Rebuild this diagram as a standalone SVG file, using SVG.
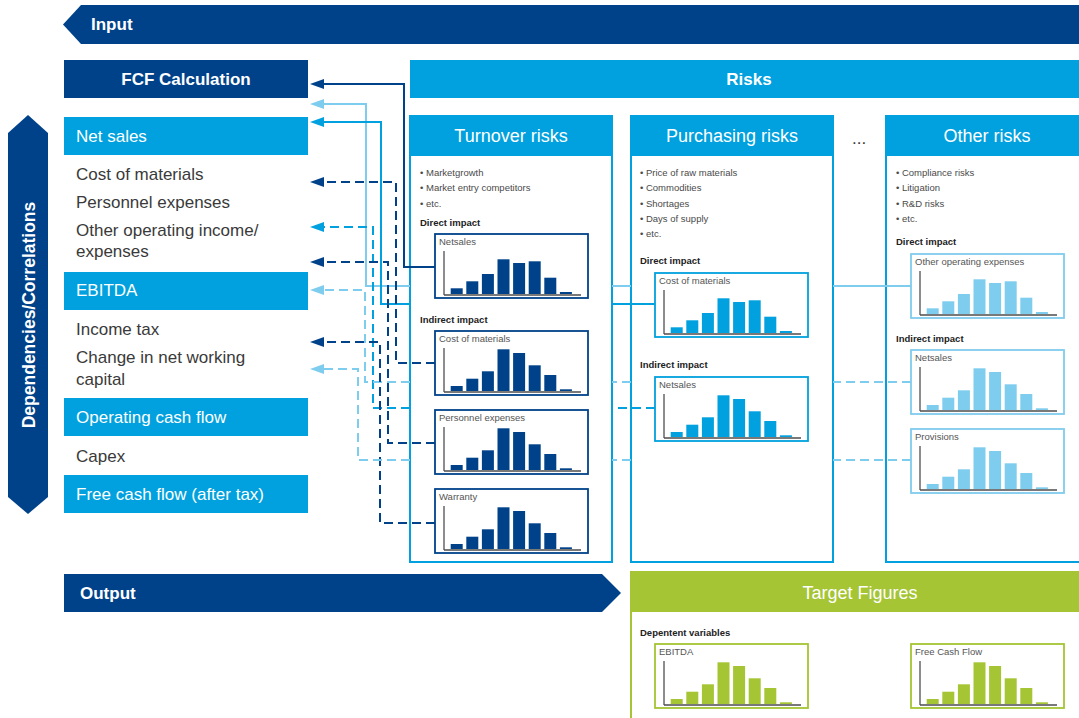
<svg xmlns="http://www.w3.org/2000/svg" xmlns:xlink="http://www.w3.org/1999/xlink" width="1079" height="718" viewBox="0 0 1079 718">
  <style>
    .dk{fill:#00428a}
    .md{fill:#00a1de}
    .lt{fill:#7fcdee}
    .gr{fill:#a5c534}
    .hd{font-family:'Liberation Sans',Arial,sans-serif;font-weight:bold;font-size:17px;fill:#fff}
    .ph{font-family:'Liberation Sans',Arial,sans-serif;font-size:18px;fill:#fff;text-anchor:middle}
    .lbl{font-family:'Liberation Sans',Arial,sans-serif;font-size:17px;fill:#3a3a3a}
    .lblw{font-family:'Liberation Sans',Arial,sans-serif;font-size:17px;fill:#fff}
    .bul{font-family:'Liberation Sans',Arial,sans-serif;font-size:9.5px;fill:#4a4a4a}
    .sub{font-family:'Liberation Sans',Arial,sans-serif;font-size:9.5px;font-weight:bold;fill:#222}
    .ct{font-family:'Liberation Sans',Arial,sans-serif;font-size:9.5px;fill:#555}
    .panel{fill:#fff;stroke:#00a1de;stroke-width:2}
    .frame{fill:#fff;stroke-width:1.8}
    .ax{stroke:#1a1a1a;stroke-width:1}
    .axb{stroke:#4d4d4d;stroke-width:1.6}
    .c-dk .frame{stroke:#00428a}
    .c-dk .bars{fill:#00428a}
    .c-md .frame{stroke:#00a1de}
    .c-md .bars{fill:#00a1de}
    .c-lt .frame{stroke:#7fcdee}
    .c-lt .bars{fill:#7fcdee}
    .c-gr .frame{stroke:#a5c534}
    .c-gr .bars{fill:#a5c534}
    .cn{fill:none;stroke-width:2}
    .cn.dash{stroke-dasharray:9 5}
    .s-dk{stroke:#00428a}
    .s-md{stroke:#00a1de}
    .s-lt{stroke:#7fcdee}
  </style>
  <defs>
    <marker id="ah-dk" markerUnits="userSpaceOnUse" markerWidth="14" markerHeight="10" viewBox="0 0 14 10" refX="0" refY="5" orient="auto">
      <path d="M0,0 L14,5 L0,10 z" fill="#00428a"/>
    </marker>
    <marker id="ah-md" markerUnits="userSpaceOnUse" markerWidth="14" markerHeight="10" viewBox="0 0 14 10" refX="0" refY="5" orient="auto">
      <path d="M0,0 L14,5 L0,10 z" fill="#00a1de"/>
    </marker>
    <marker id="ah-lt" markerUnits="userSpaceOnUse" markerWidth="14" markerHeight="10" viewBox="0 0 14 10" refX="0" refY="5" orient="auto">
      <path d="M0,0 L14,5 L0,10 z" fill="#7fcdee"/>
    </marker>
    <!-- chart axes, local frame 153 x 64 -->
    <g id="axes">
      <line class="ax" x1="9" y1="17" x2="9" y2="61"/>
      <line class="axb" x1="9" y1="61" x2="146" y2="61"/>
    </g>
    <!-- distribution with a broad peak -->
    <g id="barsA">
      <rect x="15.7" y="54.3" width="12" height="5.7"/>
      <rect x="31.3" y="47.3" width="12" height="12.7"/>
      <rect x="46.9" y="40" width="12" height="20"/>
      <rect x="62.5" y="25.3" width="12" height="34.7"/>
      <rect x="78.1" y="29" width="12" height="31"/>
      <rect x="93.7" y="27.3" width="12" height="32.7"/>
      <rect x="109.3" y="43.7" width="12" height="16.3"/>
      <rect x="124.9" y="58" width="12" height="2"/>
    </g>
    <!-- distribution with a sharp peak -->
    <g id="barsB">
      <rect x="15.7" y="55" width="12" height="5"/>
      <rect x="31.3" y="47.7" width="12" height="12.3"/>
      <rect x="46.9" y="40.3" width="12" height="19.7"/>
      <rect x="62.5" y="18.3" width="12" height="41.7"/>
      <rect x="78.1" y="22" width="12" height="38"/>
      <rect x="93.7" y="34.3" width="12" height="25.7"/>
      <rect x="109.3" y="44" width="12" height="16"/>
      <rect x="124.9" y="58.3" width="12" height="1.7"/>
    </g>
  </defs>

  <rect width="1079" height="718" fill="#fff"/>

  <!-- top banner -->
  <g id="input-banner">
    <polygon class="dk" points="63,24.5 81,5 1079,5 1079,44 81,44"/>
    <text class="hd" x="91" y="30">Input</text>
  </g>

  <g id="fcf-calculation">
    <rect class="dk" x="64" y="60" width="244" height="38"/>
    <text class="hd" x="186" y="85" text-anchor="middle">FCF Calculation</text>
  </g>

  <g id="risks-header">
    <rect class="md" x="410" y="60" width="669" height="38"/>
    <text class="hd" x="749" y="85" text-anchor="middle">Risks</text>
  </g>

  <g id="dependencies-arrow">
    <polygon class="dk" points="8,133 28,115 48,133 48,497 28,514 8,497"/>
    <text class="hd" transform="translate(35,315) rotate(-90)" text-anchor="middle" style="font-size:17.5px">Dependencies/Correlations</text>
  </g>

  <!-- FCF line items -->
  <g id="net-sales">
    <rect class="md" x="64" y="117" width="244" height="38"/>
    <text class="lblw" x="76" y="142">Net sales</text>
  </g>
  <g id="cost-of-materials"><text class="lbl" x="76" y="180">Cost of materials</text></g>
  <g id="personnel-expenses"><text class="lbl" x="76" y="208">Personnel expenses</text></g>
  <g id="other-operating">
    <text class="lbl" x="76" y="236">Other operating income/</text>
    <text class="lbl" x="76" y="257">expenses</text>
  </g>
  <g id="ebitda">
    <rect class="md" x="64" y="272" width="244" height="38"/>
    <text class="lblw" x="76" y="296">EBITDA</text>
  </g>
  <g id="income-tax"><text class="lbl" x="76" y="335">Income tax</text></g>
  <g id="change-nwc">
    <text class="lbl" x="76" y="363">Change in net working</text>
    <text class="lbl" x="76" y="385">capital</text>
  </g>
  <g id="operating-cash-flow">
    <rect class="md" x="64" y="398" width="244" height="38"/>
    <text class="lblw" x="76" y="423">Operating cash flow</text>
  </g>
  <g id="capex"><text class="lbl" x="76" y="462">Capex</text></g>
  <g id="free-cash-flow">
    <rect class="md" x="64" y="475" width="244" height="38"/>
    <text class="lblw" x="76" y="500">Free cash flow (after tax)</text>
  </g>

  <!-- risk panels -->
  <g id="turnover-risks">
    <rect class="panel" x="410" y="116" width="202" height="446"/>
    <rect class="md" x="410" y="116" width="202" height="40"/>
    <text class="ph" x="511" y="142">Turnover risks</text>
    <text class="bul" x="420" y="176">• Marketgrowth</text>
    <text class="bul" x="420" y="191">• Market entry competitors</text>
    <text class="bul" x="420" y="207">• etc.</text>
    <text class="sub" x="420" y="226">Direct impact</text>
    <text class="sub" x="420" y="323">Indirect impact</text>
    <g id="tr-netsales" class="c-dk" transform="translate(435,234)">
      <rect class="frame" width="153" height="64"/>
      <text class="ct" x="4" y="10.5">Netsales</text>
      <use href="#axes"/><use class="bars" href="#barsA"/>
    </g>
    <g id="tr-cost-of-materials" class="c-dk" transform="translate(435,331)">
      <rect class="frame" width="153" height="64"/>
      <text class="ct" x="4" y="10.5">Cost of materials</text>
      <use href="#axes"/><use class="bars" href="#barsB"/>
    </g>
    <g id="tr-personnel" class="c-dk" transform="translate(435,410)">
      <rect class="frame" width="153" height="64"/>
      <text class="ct" x="4" y="10.5">Personnel expenses</text>
      <use href="#axes"/><use class="bars" href="#barsB"/>
    </g>
    <g id="tr-warranty" class="c-dk" transform="translate(435,489)">
      <rect class="frame" width="153" height="64"/>
      <text class="ct" x="4" y="10.5">Warranty</text>
      <use href="#axes"/><use class="bars" href="#barsB"/>
    </g>
  </g>

  <g id="purchasing-risks">
    <rect class="panel" x="631" y="116" width="202" height="446"/>
    <rect class="md" x="631" y="116" width="202" height="40"/>
    <text class="ph" x="732" y="142">Purchasing risks</text>
    <text class="bul" x="640" y="176">• Price of raw materials</text>
    <text class="bul" x="640" y="191">• Commodities</text>
    <text class="bul" x="640" y="207">• Shortages</text>
    <text class="bul" x="640" y="222">• Days of supply</text>
    <text class="bul" x="640" y="237">• etc.</text>
    <text class="sub" x="640" y="264">Direct impact</text>
    <text class="sub" x="640" y="368">Indirect impact</text>
    <g id="pr-cost-of-materials" class="c-md" transform="translate(655,273)">
      <rect class="frame" width="153" height="64"/>
      <text class="ct" x="4" y="10.5">Cost of materials</text>
      <use href="#axes"/><use class="bars" href="#barsA"/>
    </g>
    <g id="pr-netsales" class="c-md" transform="translate(655,377)">
      <rect class="frame" width="153" height="64"/>
      <text class="ct" x="4" y="10.5">Netsales</text>
      <use href="#axes"/><use class="bars" href="#barsB"/>
    </g>
  </g>

  <g id="more-risks"><text class="lbl" x="852" y="144">...</text></g>

  <g id="other-risks">
    <rect class="panel" x="886" y="116" width="210" height="446"/>
    <rect class="md" x="886" y="116" width="210" height="40"/>
    <text class="ph" x="987" y="142">Other risks</text>
    <text class="bul" x="896" y="176">• Compliance risks</text>
    <text class="bul" x="896" y="191">• Litigation</text>
    <text class="bul" x="896" y="207">• R&amp;D risks</text>
    <text class="bul" x="896" y="222">• etc.</text>
    <text class="sub" x="896" y="245">Direct impact</text>
    <text class="sub" x="896" y="342">Indirect impact</text>
    <g id="or-other-opex" class="c-lt" transform="translate(911,254)">
      <rect class="frame" width="153" height="64"/>
      <text class="ct" x="4" y="10.5">Other operating expenses</text>
      <use href="#axes"/><use class="bars" href="#barsA"/>
    </g>
    <g id="or-netsales" class="c-lt" transform="translate(911,350)">
      <rect class="frame" width="153" height="64"/>
      <text class="ct" x="4" y="10.5">Netsales</text>
      <use href="#axes"/><use class="bars" href="#barsB"/>
    </g>
    <g id="or-provisions" class="c-lt" transform="translate(911,429)">
      <rect class="frame" width="153" height="64"/>
      <text class="ct" x="4" y="10.5">Provisions</text>
      <use href="#axes"/><use class="bars" href="#barsB"/>
    </g>
  </g>

  <!-- connectors: risk charts feeding the FCF line items (segments inside foreign panels are left out) -->
  <g id="connectors">
    <path class="cn s-dk" d="M435,267 H404 V84 H324" marker-end="url(#ah-dk)"/>
    <path class="cn s-lt" d="M911,286 H833 M631,286 H612 M410,286 H366 V104 H324" marker-end="url(#ah-lt)"/>
    <path class="cn s-md" d="M655,304 H612 M410,304 H381 V122 H324" marker-end="url(#ah-md)"/>
    <path class="cn dash s-dk" d="M435,363 H396 V182 H324" marker-end="url(#ah-dk)"/>
    <path class="cn dash s-md" d="M655,408 H612 M410,408 H373 V227 H324" marker-end="url(#ah-md)"/>
    <path class="cn dash s-dk" d="M435,443 H388 V262 H324" marker-end="url(#ah-dk)"/>
    <path class="cn dash s-lt" d="M911,382 H833 M631,382 H612 M410,382 H365 V290 H324" marker-end="url(#ah-lt)"/>
    <path class="cn dash s-dk" d="M435,523 H380 V342 H324" marker-end="url(#ah-dk)"/>
    <path class="cn dash s-lt" d="M911,460 H833 M631,460 H612 M410,460 H358 V369 H324" marker-end="url(#ah-lt)"/>
  </g>

  <!-- bottom: output and target figures -->
  <g id="output-banner">
    <polygon class="dk" points="64,574 602,574 621,593 602,612 64,612"/>
    <text class="hd" x="80" y="599">Output</text>
  </g>

  <g id="target-figures">
    <rect x="631" y="572" width="460" height="160" fill="#fff" stroke="#a5c534" stroke-width="2"/>
    <rect class="gr" x="631" y="572" width="460" height="40"/>
    <text class="ph" x="860" y="599">Target Figures</text>
    <text class="sub" x="640" y="636">Depentent variables</text>
    <g id="tf-ebitda" class="c-gr" transform="translate(655,644)">
      <rect class="frame" width="153" height="64"/>
      <text class="ct" x="4" y="10.5">EBITDA</text>
      <use href="#axes"/><use class="bars" href="#barsB"/>
    </g>
    <g id="tf-free-cash-flow" class="c-gr" transform="translate(911,644)">
      <rect class="frame" width="153" height="64"/>
      <text class="ct" x="4" y="10.5">Free Cash Flow</text>
      <use href="#axes"/><use class="bars" href="#barsB"/>
    </g>
  </g>
</svg>
